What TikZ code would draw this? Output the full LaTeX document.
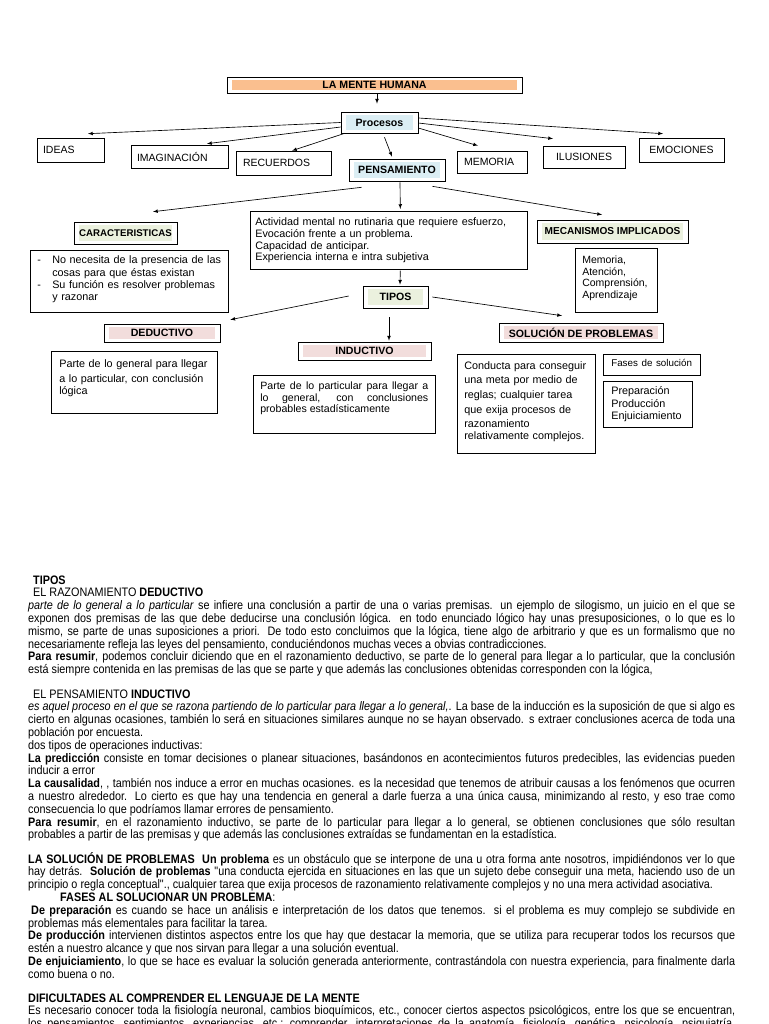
\documentclass[tikz,border=0pt]{standalone}
\usepackage{fontspec}
\setmainfont{Liberation Sans}
\newfontfamily\estrecha{Liberation Sans}[FakeStretch=0.88]
\usetikzlibrary{shapes,arrows,positioning,calc}
\hyphenpenalty=10000
\exhyphenpenalty=10000

\definecolor{naranja}{RGB}{250,191,143}
\definecolor{celeste}{RGB}{219,238,244}
\definecolor{verdeclaro}{RGB}{235,241,222}
\definecolor{rosa}{RGB}{242,221,220}

\newcommand{\tamcaja}{\fontsize{10.8}{11.7}\selectfont}

\tikzset{
  caja/.style={draw, line width=0.6pt, inner xsep=6pt, inner ysep=4pt, align=left, font=\tamcaja},
  palabra/.style={caja, font=\fontsize{10.5}{12}\selectfont},
  texto/.style={caja, anchor=north west},
  titulo/.style={draw, line width=0.6pt, inner sep=0pt, align=center,
    font=\bfseries\fontsize{10.6}{12}\selectfont,
    path picture={\fill[#1] ([shift={(5pt,3pt)}]path picture bounding box.south west)
      rectangle ([shift={(-5pt,-3pt)}]path picture bounding box.north east);}},
  flecha/.style={->, >=latex, line width=0.65pt},
  cuerpo/.style={anchor=base west, inner sep=0pt, text width=707pt, align=justify,
    font=\estrecha\fontsize{12.3}{12.8}\selectfont}
}

\begin{document}
\begin{tikzpicture}[x=1pt, y=-1pt]
  \useasboundingbox (0,0) rectangle (768,1024);
  \fill[white] (0,0) rectangle (768,1024);

  % mapa
  \node[titulo=naranja, minimum width=295, minimum height=16] (mente) at (374.5,85) {LA MENTE HUMANA};
  \node[titulo=celeste, minimum width=77, minimum height=21] (procesos) at (379.5,122.5) {Procesos};

  \node[palabra, text width=55, minimum height=24] (ideas) at (70.5,150) {IDEAS};
  \node[palabra, text width=85, minimum height=23] (imaginacion) at (179.5,156.5) {IMAGINACIÓN};
  \node[palabra, inner xsep=7pt, text width=81, minimum height=24] (recuerdos) at (283.5,163) {RECUERDOS};
  \node[titulo=celeste, minimum width=96, minimum height=22] (pensamiento) at (397,170) {PENSAMIENTO};
  \node[palabra, inner xsep=7pt, text width=56, minimum height=22] (memoria) at (492,162) {MEMORIA};
  \node[palabra, align=center, minimum width=82, minimum height=22] (ilusiones) at (584,157) {ILUSIONES};
  \node[palabra, align=center, minimum width=85, minimum height=24] (emociones) at (681.5,150) {EMOCIONES};

  \node[titulo=verdeclaro, minimum width=103, minimum height=22, font=\bfseries\fontsize{9.7}{11}\selectfont] (caract) at (125.5,233) {CARACTERISTICAS};
  \node[texto, inner xsep=7pt, text width=184, text height=9, text depth=45] (caractlista) at (30,250)
    {\fontsize{10.8}{12.8}\selectfont
     \makebox[15pt][l]{-}No necesita de la presencia de las\\
     \hspace*{15pt}cosas para que éstas existan\\
     \makebox[15pt][l]{-}Su función es resolver problemas\\
     \hspace*{15pt}y razonar};
  \node[texto, inner xsep=5pt, text width=267, text height=10.5, text depth=39.5] (actividad) at (250,211)
    {Actividad mental no rutinaria que requiere esfuerzo,\\
     Evocación frente a un problema.\\
     Capacidad de anticipar.\\
     Experiencia interna e intra subjetiva};
  \node[titulo=verdeclaro, minimum width=151, minimum height=23, font=\bfseries\fontsize{10.1}{11}\selectfont] (mecanismos) at (612.5,231.5) {MECANISMOS IMPLICADOS};
  \node[texto, inner xsep=7pt, text width=68, text height=11.5, text depth=44.5] (mecanismoslista) at (575,248)
    {\fontsize{10.5}{11.5}\selectfont Memoria,\\ Atención,\\ Comprensión,\\ Aprendizaje};

  \node[titulo=verdeclaro, minimum width=65, minimum height=22] (tipos) at (395.5,297) {TIPOS};
  \node[titulo=rosa, minimum width=116, minimum height=18] (deductivo) at (162,333) {DEDUCTIVO};
  \node[titulo=rosa, minimum width=133, minimum height=18] (inductivo) at (364.5,351) {INDUCTIVO};
  \node[titulo=rosa, minimum width=164, minimum height=19] (solucion) at (581,332.5) {SOLUCIÓN DE PROBLEMAS};

  \node[texto, inner xsep=8pt, text width=150, text height=12, text depth=42] (deductxt) at (51,351)
    {\fontsize{10.8}{15}\selectfont Parte de lo general para llegar\\ a lo particular, con conclusión\\ lógica};
  \node[texto, inner xsep=7pt, text width=168, text height=10, text depth=40, align=justify] (inductxt) at (253,375)
    {\fontsize{10.6}{16}\selectfont Parte de lo particular para llegar a\linebreak lo general, con conclusiones\linebreak probables estadísticamente};
  \node[texto, inner xsep=7pt, text width=124, text height=11, text depth=80] (conducta) at (457,354)
    {\fontsize{10.8}{14.6}\selectfont Conducta para conseguir\\ una meta por medio de\\ reglas; cualquier tarea\\ que exija procesos de\\ razonamiento\\ relativamente complejos.};
  \node[texto, inner xsep=8pt, text width=81, text height=8.5, text depth=4.5] (fases) at (603,354)
    {\fontsize{9.8}{11}\selectfont Fases de solución};
  \node[texto, inner xsep=8pt, text width=73, text height=9.5, text depth=28.5] (etapas) at (603,381)
    {\fontsize{10.8}{12.7}\selectfont Preparación\\ Producción\\ Enjuiciamiento};

  % flechas
  \draw[flecha] ([shift={(2.5,0)}]mente.south) -- ([shift={(-2.5,-8)}]procesos.north);
  \draw[flecha] (procesos.west) -- ([shift={(17.5,-4)}]ideas.north);
  \draw[flecha] ([shift={(0,4.5)}]procesos.west) -- ([shift={(27.5,-1)}]imaginacion.north);
  \draw[flecha] ([shift={(4,0)}]procesos.south west) -- ([shift={(8.5,0)}]recuerdos.north);
  \draw[flecha] ([shift={(5,4)}]procesos.south) -- ([shift={(-5,-2)}]pensamiento.north);
  \draw[flecha] ([shift={(0,5.5)}]procesos.east) -- ([shift={(-14,-5)}]memoria.north);
  \draw[flecha] ([shift={(0,0.5)}]procesos.east) -- ([shift={(-31,-7)}]ilusiones.north);
  \draw[flecha] ([shift={(0,-4.5)}]procesos.east) -- ([shift={(-18.5,-4)}]emociones.north);

  \draw[flecha] ([shift={(13,6)}]pensamiento.south west) -- ([shift={(27.5,-10)}]caract.north);
  \draw[flecha] ([shift={(3,1)}]pensamiento.south) -- ([shift={(11.5,-2)}]actividad.north);
  \draw[flecha] ([shift={(-13,5)}]pensamiento.south east) -- ([shift={(-10.5,-5)}]mecanismos.north);
  \draw[flecha] ([shift={(11.5,1)}]actividad.south) -- ([shift={(4.5,-1)}]tipos.north);

  \draw[flecha] ([shift={(-14,-1)}]tipos.west) -- ([shift={(10,-4)}]deductivo.north east);
  \draw[flecha] ([shift={(4,0)}]tipos.east) -- ([shift={(-19,-7)}]solucion.north);
  \draw[flecha] ([shift={(-6.5,9)}]tipos.south) -- ([shift={(24.5,-1)}]inductivo.north);

  % texto
  \node[cuerpo] (tipostxt) at (28,584) {%
    \hspace*{5pt}\textbf{TIPOS}\\
    \hspace*{5pt}EL RAZONAMIENTO \textbf{DEDUCTIVO}\\
    \textit{parte de lo general a lo particular} se infiere una conclusión a partir de una o varias premisas. un ejemplo de silogismo, un juicio en el que se\linebreak
    exponen dos premisas de las que debe deducirse una conclusión lógica. en todo enunciado lógico hay unas presuposiciones, o lo que es lo\linebreak
    mismo, se parte de unas suposiciones a priori. De todo esto concluimos que la lógica, tiene algo de arbitrario y que es un formalismo que no\linebreak
    necesariamente refleja las leyes del pensamiento, conduciéndonos muchas veces a obvias contradicciones.\\
    \textbf{Para resumir}, podemos concluir diciendo que en el razonamiento deductivo, se parte de lo general para llegar a lo particular, que la conclusión\linebreak
    está siempre contenida en las premisas de las que se parte y que además las conclusiones obtenidas corresponden con la lógica,};

  \node[cuerpo] (inductxtlargo) at (28,698) {%
    \hspace*{5pt}EL PENSAMIENTO \textbf{INDUCTIVO}\\
    \textit{es aquel proceso en el que se razona partiendo de lo particular para llegar a lo general,}. La base de la inducción es la suposición de que si algo es\linebreak
    cierto en algunas ocasiones, también lo será en situaciones similares aunque no se hayan observado. s extraer conclusiones acerca de toda una\linebreak
    población por encuesta.\\
    dos tipos de operaciones inductivas:\\
    \textbf{La predicción} consiste en tomar decisiones o planear situaciones, basándonos en acontecimientos futuros predecibles, las evidencias pueden\linebreak
    inducir a error\\
    \textbf{La causalidad}, , también nos induce a error en muchas ocasiones. es la necesidad que tenemos de atribuir causas a los fenómenos que ocurren\linebreak
    a nuestro alrededor. Lo cierto es que hay una tendencia en general a darle fuerza a una única causa, minimizando al resto, y eso trae como\linebreak
    consecuencia lo que podríamos llamar errores de pensamiento.\\
    \textbf{Para resumir}, en el razonamiento inductivo, se parte de lo particular para llegar a lo general, se obtienen conclusiones que sólo resultan\linebreak
    probables a partir de las premisas y que además las conclusiones extraídas se fundamentan en la estadística.};

  \node[cuerpo] (soluciontxt) at (28,863) {%
    \textbf{LA SOLUCIÓN DE PROBLEMAS\ \ Un problema} es un obstáculo que se interpone de una u otra forma ante nosotros, impidiéndonos ver lo que\linebreak
    hay detrás.\ \ \textbf{Solución de problemas} "una conducta ejercida en situaciones en las que un sujeto debe conseguir una meta, haciendo uso de un\linebreak
    principio o regla conceptual"., cualquier tarea que exija procesos de razonamiento relativamente complejos y no una mera actividad asociativa.\\
    \hspace*{32pt}\textbf{FASES AL SOLUCIONAR UN PROBLEMA}:\\
    \hspace*{3pt}\textbf{De preparación} es cuando se hace un análisis e interpretación de los datos que tenemos. si el problema es muy complejo se subdivide en\linebreak
    problemas más elementales para facilitar la tarea.\\
    \textbf{De producción} intervienen distintos aspectos entre los que hay que destacar la memoria, que se utiliza para recuperar todos los recursos que\linebreak
    estén a nuestro alcance y que nos sirvan para llegar a una solución eventual.\\
    \textbf{De enjuiciamiento}, lo que se hace es evaluar la solución generada anteriormente, contrastándola con nuestra experiencia, para finalmente darla\linebreak
    como buena o no.};

  \node[cuerpo] (dificultades) at (28,1002) {%
    \textbf{DIFICULTADES AL COMPRENDER EL LENGUAJE DE LA MENTE}\\
    Es necesario conocer toda la fisiología neuronal, cambios bioquímicos, etc., conocer ciertos aspectos psicológicos, entre los que se encuentran,\linebreak
    los pensamientos, sentimientos, experiencias, etc.; comprender, interpretaciones de la anatomía, fisiología, genética, psicología, psiquiatría,\linebreak
    };
\end{tikzpicture}
\end{document}
